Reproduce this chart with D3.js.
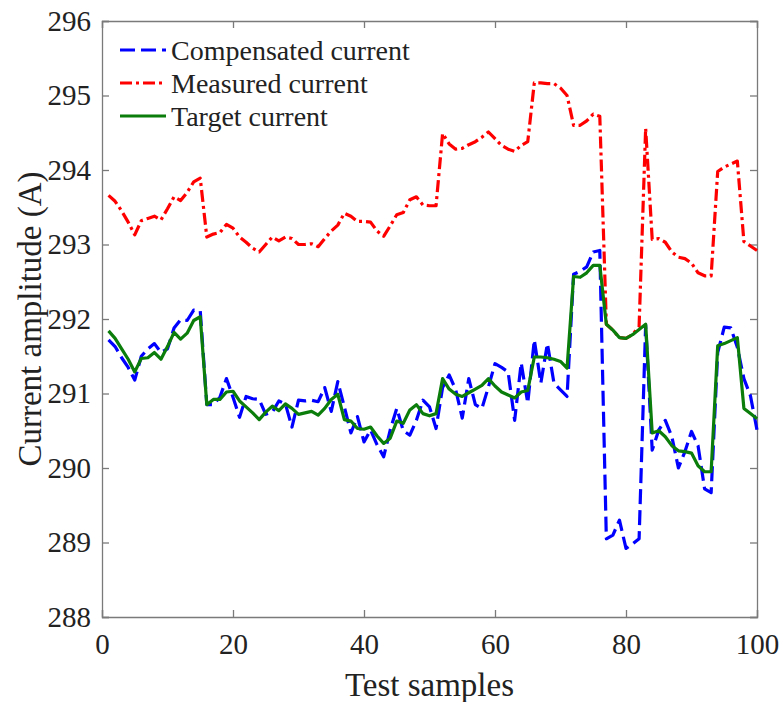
<!DOCTYPE html>
<html>
<head>
<meta charset="utf-8">
<script src="https://cdn.jsdelivr.net/npm/d3@7"></script>
<style>
  body { margin: 0; background: #fff; }
  text { font-family: "Liberation Serif", "Times New Roman", serif; fill: #222; }
</style>
</head>
<body>
<svg id="chart" width="781" height="702"></svg>
<script>
// samples 1..100
var samples = d3.range(1, 101);

var compensated = [
  291.72, 291.63, 291.48, 291.35, 291.18, 291.50, 291.60, 291.67, 291.55, 291.60,
  291.88, 291.99, 291.98, 292.12, 292.11, 290.85, 290.85, 290.95, 291.20, 290.95,
  290.68, 290.96, 290.93, 290.92, 290.72, 290.75, 290.90, 290.86, 290.55, 290.91,
  290.90, 290.91, 290.89, 291.08, 290.76, 291.16, 290.82, 290.47, 290.69, 290.35,
  290.51, 290.31, 290.15, 290.51, 290.80, 290.50, 290.44, 290.64, 290.91, 290.82,
  290.53, 291.08, 291.25, 291.05, 290.67, 291.20, 290.85, 290.80, 291.09, 291.40,
  291.35, 291.29, 290.64, 291.41, 290.87, 291.72, 291.14, 291.67, 291.14, 291.05,
  290.96, 292.60, 292.64, 292.70, 292.90, 292.92, 289.05, 289.10, 289.30, 288.92,
  288.98, 289.05, 291.92, 290.24, 290.51, 290.64, 290.42, 290.00, 290.22, 290.49,
  290.30, 289.72, 289.67, 291.55, 291.89, 291.88, 291.62, 291.20, 290.97, 290.51
];

var measured = [
  293.66, 293.58, 293.45, 293.30, 293.13, 293.32, 293.35, 293.38, 293.33, 293.48,
  293.64, 293.59, 293.70, 293.84, 293.89, 293.10, 293.14, 293.16, 293.27, 293.22,
  293.10, 293.03, 292.95, 292.90, 293.00, 293.10, 293.05, 293.10, 293.08, 293.00,
  293.00, 293.01, 292.97, 293.08, 293.18, 293.26, 293.42, 293.38, 293.31, 293.31,
  293.30, 293.18, 293.11, 293.25, 293.40, 293.43, 293.60, 293.64, 293.53, 293.52,
  293.52, 294.49, 294.35, 294.28, 294.29, 294.34, 294.38, 294.44, 294.51, 294.42,
  294.33, 294.28, 294.25, 294.33, 294.38, 295.17, 295.17, 295.16, 295.16, 295.10,
  295.00, 294.60, 294.60, 294.66, 294.75, 294.72, 291.93, 291.85, 291.75, 291.74,
  291.79, 291.90, 294.56, 293.07, 293.08, 293.03, 292.90, 292.83, 292.81, 292.75,
  292.62, 292.58, 292.58, 293.98, 294.04, 294.08, 294.12, 293.04, 292.98, 292.92
];

var target = [
  291.84, 291.74, 291.60, 291.46, 291.29, 291.47, 291.48, 291.55, 291.46, 291.63,
  291.82, 291.73, 291.81, 291.98, 292.03, 290.85, 290.92, 290.92, 291.02, 291.03,
  290.90, 290.82, 290.74, 290.65, 290.75, 290.83, 290.77, 290.86, 290.80, 290.72,
  290.74, 290.76, 290.71, 290.80, 290.92, 290.99, 290.65, 290.63, 290.53, 290.52,
  290.55, 290.43, 290.33, 290.40, 290.63, 290.60, 290.78, 290.85, 290.73, 290.70,
  290.73, 291.20, 291.06, 290.99, 290.96, 291.01, 291.06, 291.11, 291.20, 291.10,
  291.02, 290.98, 290.94, 291.02, 291.04, 291.49, 291.49, 291.48, 291.46, 291.43,
  291.34, 292.57, 292.56, 292.62, 292.72, 292.72, 291.93, 291.85, 291.75, 291.74,
  291.79, 291.86, 291.93, 290.47, 290.50, 290.42, 290.30, 290.23, 290.22, 290.20,
  290.03, 289.95, 289.95, 291.64, 291.67, 291.71, 291.75, 290.80, 290.73, 290.66
];

var xTicks = [0, 20, 40, 60, 80, 100];
var yTicks = [288, 289, 290, 291, 292, 293, 294, 295, 296];

var series = [
  { name: 'Compensated current', values: compensated, color: '#0000ff', dash: '15,6' },
  { name: 'Measured current', values: measured, color: '#ff0000', dash: '12,4,3,4' },
  { name: 'Target current', values: target, color: '#0a7d0a', dash: null }
];

var svg = d3.select('#chart');
var margin = { left: 102, right: 24, top: 21, bottom: 85 };
var W = 781, H = 702;
var axisColor = '#7a7a7a';

var x = d3.scaleLinear().domain([0, 100]).range([margin.left, W - margin.right]);
var y = d3.scaleLinear().domain([288, 296]).range([H - margin.bottom, margin.top]);

// axes (ticks point inward, box all around)
var bottomAxis = svg.append('g')
    .attr('transform', 'translate(0,' + y(288) + ')')
    .call(d3.axisBottom(x).tickValues(xTicks).tickSize(-7).tickPadding(16));
var topAxis = svg.append('g')
    .attr('transform', 'translate(0,' + y(296) + ')')
    .call(d3.axisTop(x).tickValues(xTicks).tickSize(-7).tickFormat(''));
var leftAxis = svg.append('g')
    .attr('transform', 'translate(' + x(0) + ',0)')
    .call(d3.axisLeft(y).tickValues(yTicks).tickSize(-7).tickPadding(11));
var rightAxis = svg.append('g')
    .attr('transform', 'translate(' + x(100) + ',0)')
    .call(d3.axisRight(y).tickValues(yTicks).tickSize(-7).tickFormat(''));

[bottomAxis, topAxis, leftAxis, rightAxis].forEach(function(g) {
    g.selectAll('path.domain').attr('stroke', axisColor).attr('stroke-width', 1.3);
    g.selectAll('.tick line').attr('stroke', axisColor).attr('stroke-width', 1.3);
    g.selectAll('.tick text').attr('font-size', 29)
        .style('font-family', '"Liberation Serif", serif').attr('fill', '#222');
});

// lines
var line = d3.line()
    .x(function(d, i) { return x(samples[i]); })
    .y(function(d) { return y(d); });

svg.append('g').selectAll('path')
    .data(series)
    .enter().append('path')
    .attr('d', function(d) { return line(d.values); })
    .attr('fill', 'none')
    .attr('stroke', function(d) { return d.color; })
    .attr('stroke-width', 3.2)
    .attr('stroke-linejoin', 'round')
    .attr('stroke-dasharray', function(d) { return d.dash; });

// legend
var legend = svg.append('g').selectAll('g')
    .data(series)
    .enter().append('g')
    .attr('transform', function(d, i) { return 'translate(120,' + (50 + i * 33) + ')'; });
legend.append('line')
    .attr('x1', 0).attr('x2', 46).attr('y1', 0).attr('y2', 0)
    .attr('stroke', function(d) { return d.color; })
    .attr('stroke-width', 3.2)
    .attr('stroke-dasharray', function(d) { return d.dash; });
legend.append('text')
    .attr('x', 51).attr('dy', '0.35em')
    .attr('font-size', 28)
    .text(function(d) { return d.name; });

// axis labels
svg.append('text')
    .attr('x', (x(0) + x(100)) / 2).attr('y', 696)
    .attr('text-anchor', 'middle').attr('font-size', 33)
    .text('Test samples');
svg.append('text')
    .attr('transform', 'translate(41,' + ((y(288) + y(296)) / 2) + ') rotate(-90)')
    .attr('text-anchor', 'middle').attr('font-size', 33)
    .text('Current amplitude (A)');
</script>
</body>
</html>
